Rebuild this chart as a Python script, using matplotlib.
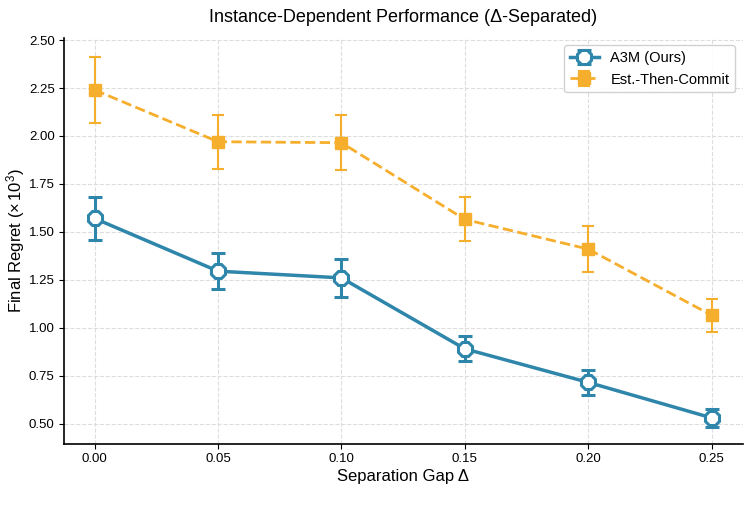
import matplotlib
matplotlib.use("Agg")
import matplotlib.pyplot as plt

plt.rcParams['font.family'] = ['Liberation Sans', 'DejaVu Sans']
plt.rcParams['mathtext.fontset'] = 'custom'
plt.rcParams['mathtext.rm'] = 'Liberation Sans'
plt.rcParams['mathtext.it'] = 'Liberation Sans:italic'

gaps = [0.00, 0.05, 0.10, 0.15, 0.20, 0.25]
a3m_mean = [1.57, 1.295, 1.26, 0.89, 0.715, 0.53]
a3m_err = [0.11, 0.095, 0.10, 0.065, 0.065, 0.045]
etc_mean = [2.24, 1.97, 1.965, 1.565, 1.41, 1.065]
etc_err = [0.17, 0.14, 0.145, 0.115, 0.12, 0.085]
yticks = [0.5, 0.75, 1.0, 1.25, 1.5, 1.75, 2.0, 2.25, 2.5]

fig, ax = plt.subplots(figsize=(7.5, 5.16), dpi=100)

ax.errorbar(gaps, a3m_mean, yerr=a3m_err, color='#2E86AB', marker='8', markersize=11,
            markerfacecolor='white', markeredgewidth=2.2, linewidth=2.5,
            capsize=5, capthick=2.2, elinewidth=2.2, label='A3M (Ours)', zorder=3)
ax.errorbar(gaps, etc_mean, yerr=etc_err, color='#F6AE2D', marker='s', markersize=9,
            linestyle='--', linewidth=2, capsize=4, capthick=1.5, elinewidth=1.5,
            label='Est.-Then-Commit', zorder=2)

ax.set_xlim(-0.0125, 0.2625)
ax.set_ylim(0.395, 2.51)
ax.set_xticks(gaps)
ax.set_xticklabels([f'{g:.2f}' for g in gaps])
ax.set_yticks(yticks)
ax.set_yticklabels([f'{v:.2f}' for v in yticks])
ax.tick_params(labelsize=9.5, pad=3)

ax.grid(True, linestyle='--', color='#dddddd', linewidth=0.8)
ax.spines['top'].set_visible(False)
ax.spines['right'].set_visible(False)
ax.spines['left'].set_linewidth(1.2)
ax.spines['bottom'].set_linewidth(1.2)

ax.set_xlabel('Separation Gap Δ', fontsize=12, labelpad=3)
ax.set_ylabel(r'Final Regret ($\times\,10^3$)', fontsize=12)
ax.yaxis.set_label_coords(-0.054, 0.5)
ax.set_title('Instance-Dependent Performance (Δ-Separated)', fontsize=13, pad=12)
ax.legend(loc='upper right', fontsize=10.5, framealpha=0.9)

plt.subplots_adjust(left=0.085, right=0.99, top=0.926, bottom=0.14)
plt.savefig('out.png', dpi=100)
